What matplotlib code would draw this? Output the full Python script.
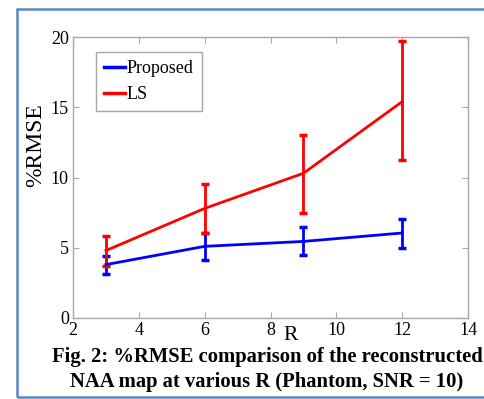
import matplotlib.pyplot as plt
from matplotlib.patches import Rectangle

# Datos
R = [3, 6, 9, 12]
propuesto = [3.8, 5.1, 5.45, 6.05]
prop_inf = [3.15, 4.15, 4.45, 5.0]
prop_sup = [4.4, 6.05, 6.5, 7.05]
ls = [4.8, 7.8, 10.3, 15.4]
ls_inf = [3.7, 6.05, 7.5, 11.25]
ls_sup = [5.85, 9.55, 13.0, 19.7]

xticks = [2, 4, 6, 8, 10, 12, 14]
yticks = [0, 5, 10, 15, 20]

plt.rcParams['font.family'] = ['Liberation Serif', 'DejaVu Serif']

fig = plt.figure(figsize=(4.84, 3.99), dpi=100)
W, H = 484, 399
ax = fig.add_axes([73 / W, 1 - 318 / H, (468 - 73) / W, (318 - 37) / H])

gris = '#a8a8a8'
for serie, inf, sup, color, nombre in [(propuesto, prop_inf, prop_sup, '#0000ff', 'Proposed'),
                                       (ls, ls_inf, ls_sup, '#ff0000', 'LS')]:
    err = [[v - a for v, a in zip(serie, inf)], [b - v for v, b in zip(serie, sup)]]
    ax.errorbar(R, serie, yerr=err, color=color, lw=2.0, elinewidth=2.0,
                capsize=3, capthick=2.5)
    ax.plot([], [], color=color, lw=2.5, label=nombre)

ax.set_xlim(2, 14)
ax.set_ylim(0, 20)
ax.set_xticks(xticks)
ax.set_yticks(yticks)
ax.tick_params(direction='in', length=4, color=gris, labelsize=13,
               top=True, right=True, pad=3)
for s in ax.spines.values():
    s.set_color(gris)
    s.set_linewidth(1.0)

leg = ax.legend(loc='upper left', bbox_to_anchor=(0.058, 0.947), borderaxespad=0,
                fontsize=13, handlelength=1.15, handletextpad=0.1, borderpad=0.45,
                labelspacing=0.5, fancybox=False, framealpha=1)
leg.get_frame().set_edgecolor(gris)
leg.get_frame().set_linewidth(1.0)

fig.text(291 / W, 1 - 335 / H, 'R', fontsize=15.5, ha='center', va='center')
fig.text(36 / W, 1 - 145 / H, '%RMSE', fontsize=17, rotation=90, ha='center', va='center')

fig.text(267 / W, 1 - 357 / H, 'Fig. 2: %RMSE comparison of the reconstructed',
         fontsize=14.9, fontweight='bold', ha='center', va='center')
fig.text(267 / W, 1 - 382 / H, 'NAA map at various R (Phantom, SNR = 10)',
         fontsize=14.9, fontweight='bold', ha='center', va='center')

# Marco azul alrededor de la figura
fig.patches.append(Rectangle((17 / W, 1 - 397 / H), 480 / W, 388 / H,
                             transform=fig.transFigure, fill=False,
                             edgecolor='#5b87c5', lw=1.8))

plt.savefig('out.png', dpi=100)
